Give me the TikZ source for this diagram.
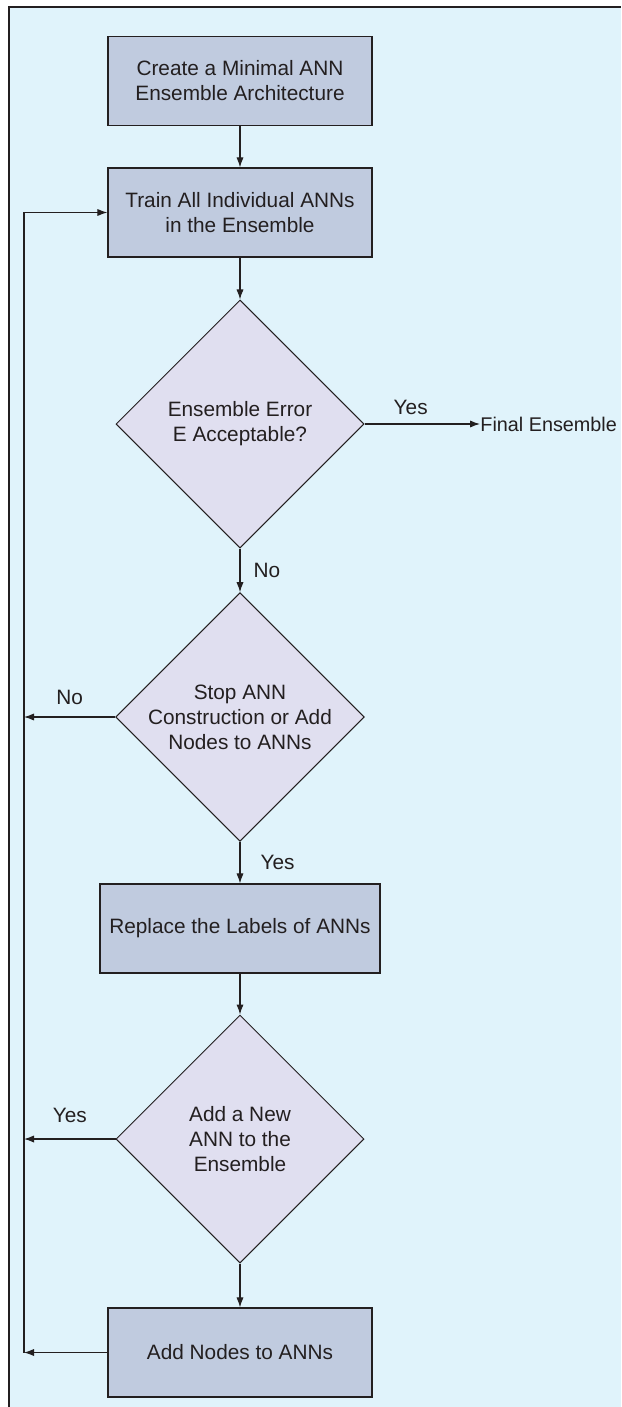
\documentclass[tikz,border=0pt]{standalone}
\usepackage{fontspec}
\setmainfont{Liberation Sans}
\usepackage{tikz}
\usetikzlibrary{arrows.meta, positioning, shapes.geometric}
\definecolor{panelbg}{RGB}{224,243,251}
\definecolor{boxfill}{RGB}{192,203,223}
\definecolor{decfill}{RGB}{224,223,240}
\definecolor{ink}{RGB}{35,31,32}

\begin{document}
\begin{tikzpicture}[x=0.5pt, y=-0.5pt, font=\fontsize{10.4}{12.5}\selectfont, color=ink,
    stepbox/.style={draw=ink, fill=boxfill, line width=0.6pt, minimum width=132pt,
                    minimum height=44.5pt, align=center, inner sep=0pt},
    decision/.style={diamond, aspect=1, draw=ink, fill=decfill, line width=0.5pt,
                     minimum width=124pt, minimum height=124pt, align=center, inner sep=0pt},
    arr/.style={-{Latex[length=5pt,width=3.6pt]}, line width=0.55pt},
    lbl/.style={inner sep=0pt, text=ink}]
    \useasboundingbox (0,0) rectangle (621,1407);
    \fill[panelbg] (9,7) rectangle (621,1407);
    \draw[line width=0.7pt] (9,1407) -- (9,7) -- (621,7);

    \node[stepbox] (create)   at (240,81)     {Create a Minimal ANN\\Ensemble Architecture};
    \node[stepbox] (train)    at (240,212.5)  {Train All Individual ANNs\\in the Ensemble};
    \node[decision] (errchk)  at (240,424)    {Ensemble Error\\E Acceptable?};
    \node[lbl, anchor=west, font=\fontsize{9.9}{12}\selectfont] (final) at (480,424) {Final Ensemble};
    \node[decision] (stopchk) at (240,717)    {Stop ANN\\Construction or Add\\Nodes to ANNs};
    \node[stepbox, minimum width=140pt] (relabel) at (240,928.5) {Replace the Labels of ANNs};
    \node[decision] (addchk)  at (240,1139)   {Add a New\\ANN to the\\Ensemble};
    \node[stepbox] (addnodes) at (240,1352.5) {Add Nodes to ANNs};
    \coordinate (fbtop) at (24,212.5);
    \coordinate (fbbot) at (24,1352.5);

    \draw[arr] (create) -- (train);
    \draw[arr] (train) -- (errchk);
    \draw[arr] (errchk.east) -- node[lbl, above=4.5pt, pos=0.4]{Yes} (final.west);
    \draw[arr] (errchk.south) -- node[lbl, right=6.5pt]{No} (stopchk.north);
    \draw[arr] (stopchk.west) -- node[lbl, above=6pt]{No} (stopchk.west -| fbtop);
    \draw[arr] (stopchk.south) -- node[lbl, right=10pt]{Yes} (relabel.north);
    \draw[arr] (relabel) -- (addchk);
    \draw[arr] (addchk.west) -- node[lbl, above=8pt]{Yes} (addchk.west -| fbtop);
    \draw[arr] (addchk.south) -- (addnodes.north);
    \draw[arr] (addnodes.west) -- (fbbot);
    \draw[arr] (fbbot) -- (fbtop) -- (train.west);
  \end{tikzpicture}
\end{document}
